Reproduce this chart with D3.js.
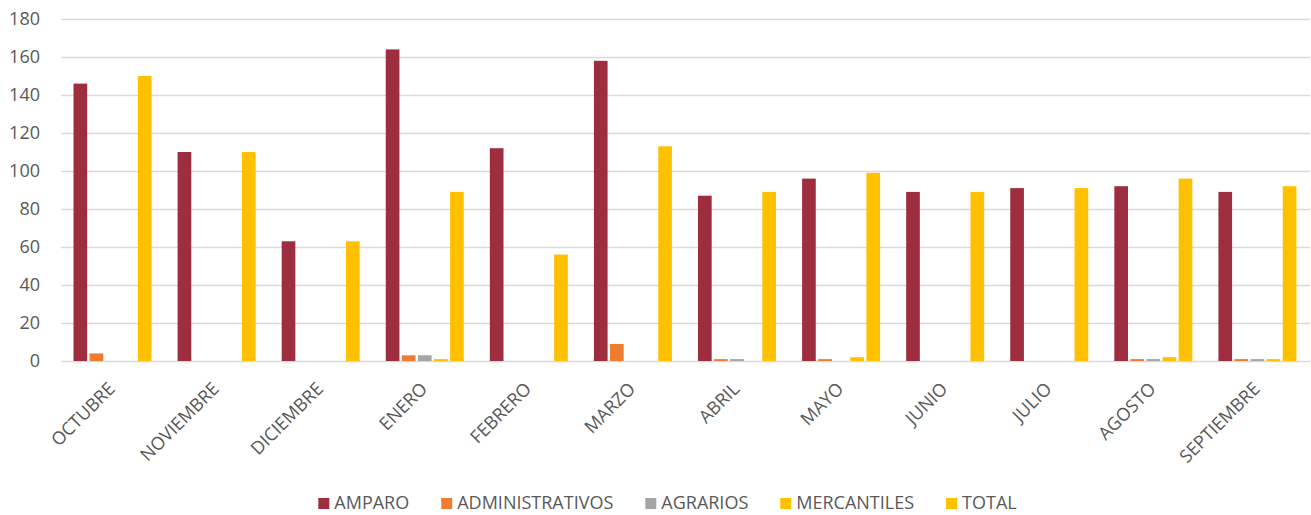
<!DOCTYPE html>
<html>
<head>
<meta charset="utf-8">
<script src="https://cdn.jsdelivr.net/npm/d3@7"></script>
<style>
  body { margin: 0; background: #fff; }
  svg { display: block; font-family: "Open Sans", sans-serif; }
</style>
</head>
<body>
<div id="chart"></div>
<script>
// Data
const months = ["OCTUBRE", "NOVIEMBRE", "DICIEMBRE", "ENERO", "FEBRERO", "MARZO",
                "ABRIL", "MAYO", "JUNIO", "JULIO", "AGOSTO", "SEPTIEMBRE"];
const seriesNames = ["AMPARO", "ADMINISTRATIVOS", "AGRARIOS", "MERCANTILES", "TOTAL"];
const amparo          = [146, 110, 63, 164, 112, 158, 87, 96, 89, 91, 92, 89];
const administrativos = [4, 0, 0, 3, 0, 9, 1, 1, 0, 0, 1, 1];
const agrarios        = [0, 0, 0, 3, 0, 0, 1, 0, 0, 0, 1, 1];
const mercantiles     = [0, 0, 0, 1, 0, 0, 0, 2, 0, 0, 2, 1];
const total           = [150, 110, 63, 89, 56, 113, 89, 99, 89, 91, 96, 92];
const yTicks = [0, 20, 40, 60, 80, 100, 120, 140, 160, 180];

const seriesValues = [amparo, administrativos, agrarios, mercantiles, total];
const colors = ["#9E2E3F", "#ED7D31", "#A5A5A5", "#FFC000", "#FFC000"];

// Dimensions
const W = 1311, H = 515;
const margin = { top: 19, right: 1, bottom: 154, left: 61 };
const width = W - margin.left - margin.right;
const height = H - margin.top - margin.bottom;

const svg = d3.select("#chart")
    .append("svg")
    .attr("width", W)
    .attr("height", H);

const g = svg.append("g")
    .attr("transform", `translate(${margin.left}, ${margin.top})`);

// Scales
const x0 = d3.scaleBand().domain(months).range([0, width]).padding(0);
const x1 = d3.scaleBand().domain(seriesNames).range([12.5, 90.5]).paddingInner(0.15).paddingOuter(0);
const y = d3.scaleLinear().domain([0, 180]).range([height, 0]);
const color = d3.scaleOrdinal().domain(seriesNames).range(colors);

// Y axis + gridlines
const yAxis = g.append("g")
    .call(d3.axisLeft(y).tickValues(yTicks).tickSize(-width).tickPadding(21));
yAxis.select(".domain").remove();
yAxis.selectAll(".tick line")
    .attr("stroke", "#D9D9D9")
    .attr("stroke-width", 1.5);
yAxis.selectAll(".tick text")
    .attr("fill", "#595959")
    .style("font-size", "18px")
    .style("font-family", "'Open Sans', sans-serif");

// Bars
const rows = months.map((m, i) => ({
    month: m,
    vals: seriesNames.map((s, j) => ({ key: s, value: seriesValues[j][i] }))
}));

const groups = g.selectAll(".group")
    .data(rows)
    .enter()
    .append("g")
    .attr("class", "group")
    .attr("transform", d => `translate(${x0(d.month)}, 0)`);

groups.selectAll("rect")
    .data(d => d.vals)
    .enter()
    .append("rect")
    .attr("x", d => x1(d.key))
    .attr("width", x1.bandwidth())
    .attr("y", d => y(d.value))
    .attr("height", d => y(0) - y(d.value))
    .attr("fill", d => color(d.key));

// X labels, rotated
g.selectAll(".xlabel")
    .data(months)
    .enter()
    .append("text")
    .attr("class", "xlabel")
    .attr("text-anchor", "end")
    .attr("fill", "#595959")
    .style("font-size", "18px")
    .attr("transform", d => `translate(${x0(d) + x0.bandwidth() / 2 + 3}, ${height + 29}) rotate(-45)`)
    .text(d => d);

// Legend
const legend = svg.append("g");
const items = legend.selectAll("g")
    .data(seriesNames)
    .enter()
    .append("g");

items.append("rect")
    .attr("width", 11)
    .attr("height", 11)
    .attr("y", 498)
    .attr("fill", d => color(d));

items.append("text")
    .attr("x", 16)
    .attr("y", 508.5)
    .attr("fill", "#595959")
    .style("font-size", "18px")
    .text(d => d);

let offset = 0;
const offsets = [];
items.each(function() {
    const tw = d3.select(this).select("text").node().getComputedTextLength();
    offsets.push(offset);
    offset += 16 + tw + 32;
});
const legendWidth = offset - 32;
const legendStart = 667.5 - legendWidth / 2;
items.attr("transform", (d, i) => `translate(${legendStart + offsets[i]}, 0)`);
</script>
</body>
</html>
